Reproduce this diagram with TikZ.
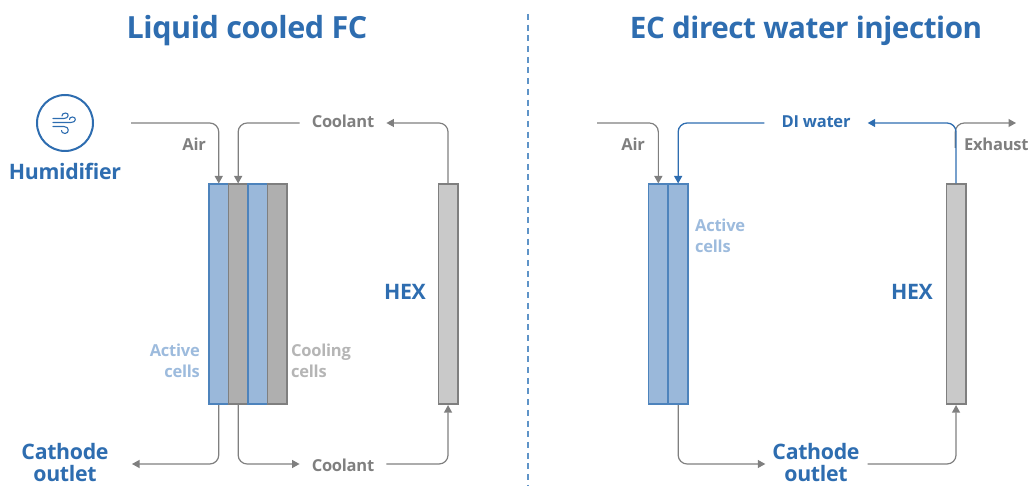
\documentclass[tikz,border=0pt]{standalone}
\usepackage{fontspec}
\setmainfont[LetterSpace=-1.5]{Open Sans}
\usetikzlibrary{arrows.meta,calc}
\definecolor{bluetxt}{HTML}{2E6DB0}
\definecolor{graytxt}{HTML}{7F7F7F}
\definecolor{lightblue}{HTML}{9AB8DA}
\definecolor{paleblue}{HTML}{9DBBDD}
\definecolor{palegray}{HTML}{B5B5B5}
\definecolor{coolfill}{HTML}{AFAFAF}
\definecolor{hexfill}{HTML}{C9C9C9}
\definecolor{dashblue}{HTML}{5F94C8}
\tikzset{
  cellbase/.style={minimum width=19.5pt,minimum height=220pt,inner sep=0pt,line width=1.6pt,anchor=north west},
  activecell/.style={cellbase,draw=bluetxt!85!white,fill=lightblue},
  coolcell/.style={cellbase,draw=graytxt,fill=coolfill},
  hexcell/.style={cellbase,draw=graytxt,fill=hexfill},
  flow/.style={draw=graytxt,line width=1.2pt,rounded corners=9pt},
  flowb/.style={draw=bluetxt,line width=1.3pt,rounded corners=9pt},
  tip/.style={-{Triangle[length=7.5pt,width=8pt]}},
  titletxt/.style={font=\bfseries\fontsize{30.5}{32}\selectfont,text=bluetxt,inner sep=0pt},
  bigtxt/.style={font=\bfseries\fontsize{21.3}{21.5}\selectfont,text=bluetxt,inner sep=0pt,align=center},
  smalltxt/.style={font=\bfseries\fontsize{16.5}{21}\selectfont,text=graytxt,inner sep=0pt},
  wind/.style={draw=bluetxt,line width=1.1pt,line cap=round}
}
\begin{document}
\begin{tikzpicture}[x=1pt,y=-1pt]
\useasboundingbox (0,0) rectangle (1029,486);
% titles
\node[titletxt] (t1) at (247,31) {Liquid cooled FC};
\node[titletxt,font=\bfseries\fontsize{29.6}{32}\selectfont] (t2) at (806,31) {EC direct water injection};
% divider
\coordinate (d1) at (528,14); \coordinate (d2) at (528,486);
\draw[draw=dashblue,line width=1.5pt,dash pattern=on 6pt off 4.7pt] (d1) -- (d2);
% icon
\node[draw=bluetxt,line width=2pt,circle,minimum size=56pt,inner sep=0pt] (icon) at (65,123) {};
\draw[wind] (53,118.5) -- (64,118.5) .. controls (69,118.5) and (69.5,113) .. (65.5,113) .. controls (63,113) and (62,114.5) .. (62,116);
\draw[wind] (53,122.5) -- (71,122.5) .. controls (76.5,122.5) and (76.5,117) .. (72.5,117) .. controls (70.5,117) and (69.5,118) .. (69.5,119.5);
\draw[wind] (53,126.5) -- (64,126.5) .. controls (69.5,126.5) and (69.5,133.5) .. (65,133.5) .. controls (62.5,133.5) and (61.5,132) .. (61.5,130.5);
\node[bigtxt] (hum) at (65,171.5) {Humidifier};
% left stack
\node[activecell] (a1) at (208.2,183.5) {};
\node[coolcell] (c1) at (227.6,183.5) {};
\node[activecell] (a2) at (247,183.5) {};
\node[coolcell] (c2) at (266.5,183.5) {};
\node[hexcell] (h1) at (437.5,183.5) {};
\node[smalltxt,text=graytxt,anchor=east] (air1) at (206,144.5) {Air};
\node[smalltxt] (cool1) at (343,121.5) {Coolant};
\node[smalltxt] (cool2) at (343,465.5) {Coolant};
\node[smalltxt,text=paleblue,align=right,anchor=east] (act1) at (200,361) {Active\\cells};
\node[smalltxt,text=palegray,align=left,anchor=west] (coolc) at (291,361) {Cooling\\cells};
\node[bigtxt] (hex1) at (405,291.5) {HEX};
\node[bigtxt] (cat1) at (65,462.5) {Cathode\\outlet};
\coordinate (airs1) at (131,123);
\coordinate (outs1) at (132,464);
% left connectors
\draw[flow,tip] (airs1) -| (a1.north);
\draw[flow,tip] ($(cool1.west |- airs1)+(-12,0)$) -| (c1.north);
\draw[flow,tip] (h1.north) |- ($(cool1.east |- airs1)+(12,0)$);
\draw[flow,tip] (a1.south) |- (outs1);
\draw[flow,tip] (c1.south) |- ($(cool2.west |- outs1)+(-12,0)$);
\draw[flow,tip] ($(cool2.east |- outs1)+(12,0)$) -| (h1.south);
% right stack
\node[activecell] (a3) at (647.8,183.5) {};
\node[activecell] (a4) at (667.6,183.5) {};
\node[hexcell] (h2) at (945.5,183.5) {};
\node[smalltxt,anchor=east] (air2) at (645,144.5) {Air};
\node[smalltxt,text=bluetxt] (di) at (816,121.5) {DI water};
\node[smalltxt,anchor=west] (exh) at (964,144.5) {Exhaust};
\node[smalltxt,text=paleblue,align=left,anchor=west] (act2) at (695,236) {Active\\cells};
\node[bigtxt] (hex2) at (912,291.5) {HEX};
\node[bigtxt] (cat2) at (816,462.5) {Cathode\\outlet};
\coordinate (airs2) at (597,123);
\coordinate (exe) at (1016,123);
\coordinate (jn) at (955.3,148);
% right connectors
\draw[flow,tip] (airs2) -| (a3.north);
\draw[flow,tip] (jn) |- (exe);
\draw[flowb,tip] ($(di.west |- airs2)+(-17,0)$) -| (a4.north);
\draw[flowb,tip] (h2.north) |- ($(di.east |- airs2)+(17,0)$);
\draw[flow,tip] (a4.south) |- ($(cat2.west |- outs1)+(-7,0)$);
\draw[flow,tip] ($(cat2.east |- outs1)+(8,0)$) -| (h2.south);
\end{tikzpicture}
\end{document}
